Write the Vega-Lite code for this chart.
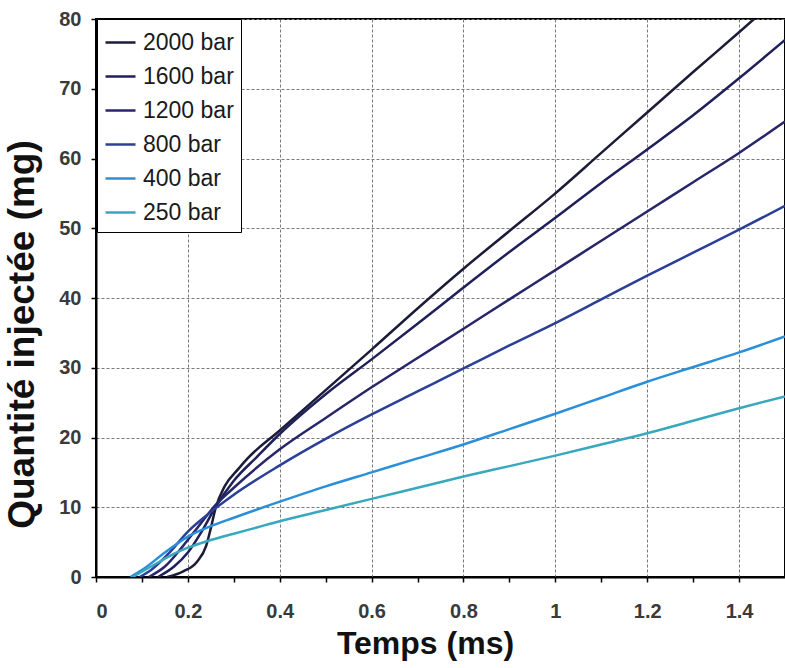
{
  "$schema": "https://vega.github.io/schema/vega-lite/v6.json",
  "autosize": "none",
  "width": 689,
  "height": 558,
  "padding": {"left": 96, "top": 19, "right": 0, "bottom": 91},
  "background": "white",
  "config": {
    "font": "Liberation Sans",
    "view": {"stroke": "black", "strokeWidth": 2},
    "axis": {
      "domainColor": "black",
      "domainWidth": 2,
      "tickColor": "black",
      "tickWidth": 1.5,
      "tickSize": 5,
      "gridColor": "#7a7a7a",
      "gridDash": [3, 2],
      "gridWidth": 1,
      "labelFont": "Liberation Sans",
      "labelFontWeight": "bold",
      "labelColor": "#3a3a3a",
      "labelFontSize": 20,
      "titleFont": "Liberation Sans",
      "titleFontWeight": "bold",
      "titleColor": "#111"
    }
  },
  "data": {
    "values": [
      {"p": "2000 bar", "t": 0.155, "q": 0},
      {"p": "2000 bar", "t": 0.19, "q": 0.8},
      {"p": "2000 bar", "t": 0.22, "q": 2.2},
      {"p": "2000 bar", "t": 0.24, "q": 4.5},
      {"p": "2000 bar", "t": 0.25, "q": 7},
      {"p": "2000 bar", "t": 0.26, "q": 9.8},
      {"p": "2000 bar", "t": 0.28, "q": 13},
      {"p": "2000 bar", "t": 0.31, "q": 15.5},
      {"p": "2000 bar", "t": 0.33, "q": 17},
      {"p": "2000 bar", "t": 0.4, "q": 21},
      {"p": "2000 bar", "t": 0.5, "q": 26.8},
      {"p": "2000 bar", "t": 0.6, "q": 32.6},
      {"p": "2000 bar", "t": 0.7, "q": 38.5},
      {"p": "2000 bar", "t": 0.8, "q": 44.2},
      {"p": "2000 bar", "t": 0.9, "q": 49.6},
      {"p": "2000 bar", "t": 1.0, "q": 55},
      {"p": "2000 bar", "t": 1.1, "q": 60.8},
      {"p": "2000 bar", "t": 1.2, "q": 66.6},
      {"p": "2000 bar", "t": 1.3, "q": 72.4},
      {"p": "2000 bar", "t": 1.4, "q": 78.1},
      {"p": "2000 bar", "t": 1.45, "q": 81},
      {"p": "1600 bar", "t": 0.135, "q": 0},
      {"p": "1600 bar", "t": 0.17, "q": 1.5},
      {"p": "1600 bar", "t": 0.2, "q": 3.5},
      {"p": "1600 bar", "t": 0.23, "q": 6.5},
      {"p": "1600 bar", "t": 0.26, "q": 10},
      {"p": "1600 bar", "t": 0.3, "q": 13.8},
      {"p": "1600 bar", "t": 0.35, "q": 17.2},
      {"p": "1600 bar", "t": 0.4, "q": 20.5},
      {"p": "1600 bar", "t": 0.5, "q": 26.2},
      {"p": "1600 bar", "t": 0.6, "q": 31.2},
      {"p": "1600 bar", "t": 0.7, "q": 36.3},
      {"p": "1600 bar", "t": 0.8, "q": 41.5},
      {"p": "1600 bar", "t": 0.9, "q": 46.6},
      {"p": "1600 bar", "t": 1.0, "q": 51.5},
      {"p": "1600 bar", "t": 1.1, "q": 56.5},
      {"p": "1600 bar", "t": 1.2, "q": 61.3},
      {"p": "1600 bar", "t": 1.3, "q": 66.2},
      {"p": "1600 bar", "t": 1.4, "q": 71.5},
      {"p": "1600 bar", "t": 1.5, "q": 77},
      {"p": "1200 bar", "t": 0.115, "q": 0},
      {"p": "1200 bar", "t": 0.15, "q": 1.5},
      {"p": "1200 bar", "t": 0.19, "q": 4.5},
      {"p": "1200 bar", "t": 0.22, "q": 7},
      {"p": "1200 bar", "t": 0.26, "q": 10.3},
      {"p": "1200 bar", "t": 0.3, "q": 12.8},
      {"p": "1200 bar", "t": 0.4, "q": 18.3},
      {"p": "1200 bar", "t": 0.5, "q": 22.8},
      {"p": "1200 bar", "t": 0.6, "q": 27.2},
      {"p": "1200 bar", "t": 0.7, "q": 31.4},
      {"p": "1200 bar", "t": 0.8, "q": 35.6},
      {"p": "1200 bar", "t": 0.9, "q": 39.8},
      {"p": "1200 bar", "t": 1.0, "q": 44},
      {"p": "1200 bar", "t": 1.1, "q": 48.2},
      {"p": "1200 bar", "t": 1.2, "q": 52.4},
      {"p": "1200 bar", "t": 1.3, "q": 56.6},
      {"p": "1200 bar", "t": 1.4, "q": 60.8},
      {"p": "1200 bar", "t": 1.5, "q": 65.3},
      {"p": "800 bar", "t": 0.095, "q": 0},
      {"p": "800 bar", "t": 0.12, "q": 1},
      {"p": "800 bar", "t": 0.16, "q": 3.5},
      {"p": "800 bar", "t": 0.2, "q": 6.5},
      {"p": "800 bar", "t": 0.24, "q": 8.8},
      {"p": "800 bar", "t": 0.3, "q": 11.8},
      {"p": "800 bar", "t": 0.4, "q": 16},
      {"p": "800 bar", "t": 0.5, "q": 19.8},
      {"p": "800 bar", "t": 0.6, "q": 23.3},
      {"p": "800 bar", "t": 0.7, "q": 26.6},
      {"p": "800 bar", "t": 0.8, "q": 29.9},
      {"p": "800 bar", "t": 0.9, "q": 33.2},
      {"p": "800 bar", "t": 1.0, "q": 36.4},
      {"p": "800 bar", "t": 1.1, "q": 39.8},
      {"p": "800 bar", "t": 1.2, "q": 43.2},
      {"p": "800 bar", "t": 1.3, "q": 46.5},
      {"p": "800 bar", "t": 1.4, "q": 49.8},
      {"p": "800 bar", "t": 1.5, "q": 53.2},
      {"p": "400 bar", "t": 0.075, "q": 0},
      {"p": "400 bar", "t": 0.1, "q": 1},
      {"p": "400 bar", "t": 0.15, "q": 3.5},
      {"p": "400 bar", "t": 0.2, "q": 5.8},
      {"p": "400 bar", "t": 0.25, "q": 7.3},
      {"p": "400 bar", "t": 0.3, "q": 8.5},
      {"p": "400 bar", "t": 0.4, "q": 10.8},
      {"p": "400 bar", "t": 0.5, "q": 13},
      {"p": "400 bar", "t": 0.6, "q": 15},
      {"p": "400 bar", "t": 0.7, "q": 17},
      {"p": "400 bar", "t": 0.8, "q": 19},
      {"p": "400 bar", "t": 0.9, "q": 21.2},
      {"p": "400 bar", "t": 1.0, "q": 23.4},
      {"p": "400 bar", "t": 1.1, "q": 25.7},
      {"p": "400 bar", "t": 1.2, "q": 28},
      {"p": "400 bar", "t": 1.3, "q": 30.1},
      {"p": "400 bar", "t": 1.4, "q": 32.2},
      {"p": "400 bar", "t": 1.5, "q": 34.5},
      {"p": "250 bar", "t": 0.08, "q": 0},
      {"p": "250 bar", "t": 0.12, "q": 1.5},
      {"p": "250 bar", "t": 0.16, "q": 3},
      {"p": "250 bar", "t": 0.2, "q": 4.2},
      {"p": "250 bar", "t": 0.25, "q": 5.3},
      {"p": "250 bar", "t": 0.3, "q": 6.2},
      {"p": "250 bar", "t": 0.35, "q": 7.1},
      {"p": "250 bar", "t": 0.4, "q": 8},
      {"p": "250 bar", "t": 0.5, "q": 9.6},
      {"p": "250 bar", "t": 0.6, "q": 11.2},
      {"p": "250 bar", "t": 0.7, "q": 12.8},
      {"p": "250 bar", "t": 0.8, "q": 14.4},
      {"p": "250 bar", "t": 0.9, "q": 15.9},
      {"p": "250 bar", "t": 1.0, "q": 17.4},
      {"p": "250 bar", "t": 1.1, "q": 19},
      {"p": "250 bar", "t": 1.2, "q": 20.6},
      {"p": "250 bar", "t": 1.3, "q": 22.4},
      {"p": "250 bar", "t": 1.4, "q": 24.2},
      {"p": "250 bar", "t": 1.5, "q": 25.9}
    ]
  },
  "mark": {"type": "line", "strokeWidth": 2.5, "interpolate": "monotone", "clip": true},
  "encoding": {
    "x": {
      "field": "t",
      "type": "quantitative",
      "scale": {"domain": [0, 1.5], "nice": false},
      "axis": {
        "title": "Temps (ms)",
        "titleFontSize": 32,
        "titleX": 329,
        "titleY": 66,
        "titleAlign": "center",
        "titleBaseline": "middle",
        "values": [0, 0.1, 0.2, 0.3, 0.4, 0.5, 0.6, 0.7, 0.8, 0.9, 1, 1.1, 1.2, 1.3, 1.4],
        "labelExpr": "round(datum.value*10)%2==0 ? format(datum.value, '~g') : ''",
        "labelPadding": 19,
        "gridOpacity": {"condition": {"test": "round(datum.value*10)%2==0", "value": 1}, "value": 0}
      }
    },
    "y": {
      "field": "q",
      "type": "quantitative",
      "scale": {"domain": [0, 80], "nice": false},
      "axis": {
        "title": "Quantité injectée (mg)",
        "titleFontSize": 37,
        "titleAngle": -90,
        "titleX": -74,
        "titleY": 315,
        "titleAlign": "center",
        "titleBaseline": "middle",
        "values": [0, 10, 20, 30, 40, 50, 60, 70, 80],
        "labelPadding": 10
      }
    },
    "color": {
      "field": "p",
      "type": "nominal",
      "sort": ["2000 bar", "1600 bar", "1200 bar", "800 bar", "400 bar", "250 bar"],
      "scale": {
        "domain": ["2000 bar", "1600 bar", "1200 bar", "800 bar", "400 bar", "250 bar"],
        "range": ["#1c1c38", "#1f1f5a", "#27266a", "#2b3f96", "#2a8fd8", "#37a8bd"]
      },
      "legend": {
        "title": null,
        "orient": "none",
        "legendX": 1,
        "legendY": 0,
        "symbolType": "stroke",
        "symbolSize": 900,
        "symbolStrokeWidth": 2.5,
        "labelFontSize": 23,
        "labelFont": "Liberation Sans",
        "labelColor": "#1a1a1a",
        "labelOffset": 6,
        "rowPadding": 5,
        "padding": 7,
        "strokeColor": "black",
        "fillColor": "white"
      }
    }
  }
}
